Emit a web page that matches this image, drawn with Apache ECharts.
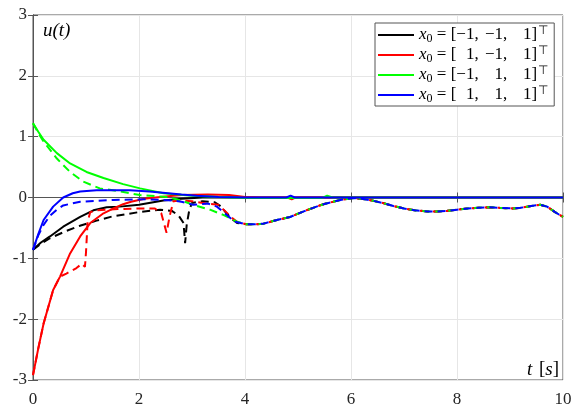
<!DOCTYPE html>
<html>
<head>
<meta charset="utf-8">
<script src="https://cdn.jsdelivr.net/npm/echarts@6/dist/echarts.min.js"></script>
<style>html,body{margin:0;padding:0;background:#fff}#c{width:580px;height:413px}</style>
</head>
<body>
<div id="c"></div>
<script>
// ---- data ----
const xTicks = [0, 2, 4, 6, 8, 10];
const yTicks = [-3, -2, -1, 0, 1, 2, 3];

const legendNames = ['x0 = [-1,-1,1]', 'x0 = [1,-1,1]', 'x0 = [-1,1,1]', 'x0 = [1,1,1]'];
const legendSigns = [['−', '−', ''], ['', '−', ''], ['−', '', ''], ['', '', '']];

const blackSolidT = [0, 0.15, 0.32, 0.57, 0.89, 1.14, 1.39, 1.64, 2.0, 2.46, 2.8, 3.2, 3.6, 4.0, 10];
const blackSolidU = [-0.86, -0.74, -0.64, -0.48, -0.32, -0.21, -0.16, -0.15, -0.12, -0.05, -0.02, 0, 0, 0, 0];

const redSolidT = [0, 0.1, 0.2, 0.38, 0.51, 0.7, 0.89, 1.08, 1.33, 1.52, 1.7, 1.85, 2.1, 2.4, 2.8, 3.3, 3.7, 4.0, 4.3, 4.8, 4.88, 4.95, 10];
const redSolidU = [-2.92, -2.48, -2.07, -1.52, -1.3, -0.92, -0.64, -0.42, -0.26, -0.18, -0.11, -0.07, -0.02, 0.01, 0.04, 0.05, 0.04, 0.01, 0, 0, -0.03, 0, 0];

const greenSolidT = [0, 0.1, 0.2, 0.45, 0.7, 1.01, 1.33, 1.7, 2.02, 2.46, 3.0, 3.5, 4.0, 5.45, 5.55, 5.65, 10];
const greenSolidU = [1.22, 1.08, 0.95, 0.73, 0.56, 0.42, 0.32, 0.22, 0.15, 0.07, 0.03, 0.01, -0.01, -0.01, 0.03, 0, 0];

const blueSolidT = [0, 0.1, 0.2, 0.38, 0.57, 0.75, 0.89, 1.2, 1.83, 2.2, 2.45, 2.8, 3.09, 3.5, 4.0, 4.78, 4.86, 4.94, 10];
const blueSolidU = [-0.86, -0.6, -0.37, -0.15, 0.0, 0.07, 0.1, 0.12, 0.12, 0.1, 0.08, 0.05, 0.03, 0.01, 0, 0, 0.03, 0, 0];

const blackDashT = [0, 0.15, 0.32, 0.6, 0.9, 1.2, 1.5, 2.0, 2.4, 2.62, 2.75, 2.84, 2.87, 2.9, 2.95, 3.0, 3.2, 3.43, 3.55, 3.64, 3.75, 3.85];
const blackDashU = [-0.86, -0.76, -0.67, -0.56, -0.46, -0.38, -0.31, -0.24, -0.2, -0.22, -0.3, -0.42, -0.75, -0.45, -0.2, -0.09, -0.06, -0.08, -0.15, -0.25, -0.35, -0.42];

const redDashT = [0, 0.1, 0.2, 0.38, 0.51, 0.63, 0.82, 0.92, 0.98, 1.0, 1.03, 1.08, 1.2, 1.6, 2.0, 2.3, 2.42, 2.52, 2.58, 2.65, 2.8, 3.0, 3.28, 3.5, 3.62, 3.75, 3.85];
const redDashU = [-2.92, -2.48, -2.07, -1.52, -1.3, -1.25, -1.16, -1.09, -1.14, -0.9, -0.4, -0.24, -0.21, -0.19, -0.18, -0.18, -0.26, -0.58, -0.3, -0.06, -0.05, -0.06, -0.1, -0.12, -0.22, -0.33, -0.4];

const greenDashT = [0, 0.1, 0.2, 0.45, 0.7, 0.95, 1.26, 1.64, 2.02, 2.52, 2.8, 3.02, 3.34, 3.6, 3.85];
const greenDashU = [1.22, 1.06, 0.92, 0.64, 0.42, 0.26, 0.15, 0.1, 0.04, 0.01, -0.05, -0.12, -0.2, -0.29, -0.4];

const blueDashT = [0, 0.1, 0.2, 0.32, 0.45, 0.57, 0.89, 1.52, 2.15, 2.65, 2.8, 3.02, 3.3, 3.47, 3.62, 3.81];
const blueDashU = [-0.86, -0.62, -0.45, -0.3, -0.2, -0.13, -0.07, -0.04, -0.03, -0.05, -0.07, -0.12, -0.1, -0.15, -0.26, -0.4];

const waveT = [4.03, 4.2, 4.35, 4.6, 4.85, 5.16, 5.48, 5.8, 6.04, 6.2, 6.4, 6.6, 6.8, 7.0, 7.2, 7.45, 7.6, 7.8, 8.0, 8.2, 8.4, 8.6, 8.8, 9.05, 9.2, 9.4, 9.57, 9.7, 9.85, 10];
const waveU = [-0.44, -0.44, -0.43, -0.37, -0.32, -0.21, -0.11, -0.04, -0.01, -0.02, -0.05, -0.09, -0.14, -0.18, -0.21, -0.23, -0.23, -0.22, -0.2, -0.18, -0.17, -0.16, -0.17, -0.18, -0.17, -0.14, -0.12, -0.15, -0.24, -0.32];

const colors = ['#000000', '#ff0000', '#00ff00', '#0000ff'];

// ---- build ----
const zip = (t, u) => t.map((v, i) => [v, u[i]]);
const solids = [zip(blackSolidT, blackSolidU), zip(redSolidT, redSolidU), zip(greenSolidT, greenSolidU), zip(blueSolidT, blueSolidU)];
const wave = zip(waveT, waveU);
const dashes = [zip(blackDashT, blackDashU), zip(redDashT, redDashU), zip(greenDashT, greenDashU), zip(blueDashT, blueDashU)].map(d => d.concat(wave));

const series = [];
for (let i = 0; i < 4; i++) {
  series.push({
    name: legendNames[i], type: 'line', data: solids[i], showSymbol: false, symbol: 'none',
    lineStyle: { color: colors[i], width: 2 }, itemStyle: { color: colors[i] }, animation: false, z: 2 + i * 2
  });
  series.push({
    name: 'dash' + i, type: 'line', data: dashes[i], showSymbol: false, symbol: 'none',
    lineStyle: { color: colors[i], width: 2, type: [8, 5] }, itemStyle: { color: colors[i] }, animation: false, z: 3 + i * 2
  });
}

const serif = 'Liberation Serif';
const legendRich = {
  x: { fontFamily: serif, fontStyle: 'italic', fontSize: 17, color: '#000', lineHeight: 20 },
  sub: { fontFamily: serif, fontSize: 12, color: '#000', lineHeight: 10, verticalAlign: 'bottom' },
  t: { fontFamily: serif, fontSize: 17, color: '#000', lineHeight: 20 },
  c: { fontFamily: serif, fontSize: 17, color: '#000', lineHeight: 20, padding: [0, 2, 0, 0] },
  h: { fontFamily: serif, fontSize: 17, color: 'transparent', lineHeight: 20 },
  sup: { fontFamily: serif, fontSize: 12, color: '#000', lineHeight: 10, verticalAlign: 'top', padding: [0, 0, 0, 1] }
};
function legendFmt(name) {
  const i = legendNames.indexOf(name);
  const s = legendSigns[i];
  const num = sg => sg ? '{t|−1}' : '{h|−}{t|1}';
  return '{x|x}{sub|0}{t| = [}' + num(s[0]) + '{c|, }' + num(s[1]) + '{c|, }' + num(s[2]) + '{t|]}{sup|⊤}';
}

const axisCol = '#555';
const tickFmt = v => String(v);
const option = {
  backgroundColor: '#fff',
  animation: false,
  grid: { left: 33, right: 17, top: 15, bottom: 33, show: true, borderColor: axisCol, borderWidth: 1, backgroundColor: 'transparent' },
  xAxis: [{
    type: 'value', min: xTicks[0], max: xTicks[xTicks.length - 1], interval: 2,
    axisLine: { show: true, lineStyle: { color: axisCol } },
    axisTick: { show: true, inside: true, length: 5, lineStyle: { color: axisCol } },
    axisLabel: { color: '#262626', fontFamily: serif, fontSize: 17, margin: 11, formatter: tickFmt },
    splitLine: { show: true, lineStyle: { color: '#e6e6e6', width: 1 } }
  }, {
    type: 'value', position: 'top', min: xTicks[0], max: xTicks[xTicks.length - 1], interval: 2,
    axisLine: { show: true, lineStyle: { color: axisCol } },
    axisTick: { show: true, inside: true, length: 5, lineStyle: { color: axisCol } },
    axisLabel: { show: false }, splitLine: { show: false }
  }],
  yAxis: [{
    type: 'value', min: yTicks[0], max: yTicks[yTicks.length - 1], interval: 1,
    axisLine: { show: true, lineStyle: { color: axisCol } },
    axisTick: { show: true, inside: true, length: 5, lineStyle: { color: axisCol } },
    axisLabel: { color: '#262626', fontFamily: serif, fontSize: 17, margin: 6, formatter: tickFmt },
    splitLine: { show: true, lineStyle: { color: '#e6e6e6', width: 1 } }
  }, {
    type: 'value', position: 'right', min: yTicks[0], max: yTicks[yTicks.length - 1], interval: 1,
    axisLine: { show: true, lineStyle: { color: axisCol } },
    axisTick: { show: true, inside: true, length: 5, lineStyle: { color: axisCol } },
    axisLabel: { show: false }, splitLine: { show: false }
  }],
  legend: {
    data: legendNames,
    orient: 'vertical', left: 375, top: 23,
    padding: [2, 6, 1, 3], itemGap: 0,
    itemWidth: 36, itemHeight: 2, icon: 'rect',
    backgroundColor: '#fff', borderColor: '#555', borderWidth: 1, borderRadius: 0,
    selectedMode: false,
    formatter: legendFmt,
    textStyle: { rich: legendRich, fontFamily: serif, fontSize: 17, lineHeight: 20, padding: [0, 0, 0, 0] }
  },
  graphic: [
    { type: 'text', left: 43, top: 21, z: 100, style: { text: 'u(t)', fontFamily: serif, fontStyle: 'italic', fontSize: 19, fill: '#000' } },
    { type: 'text', right: 21, top: 360, z: 100, style: {
      text: '{i|t}  {n|[}{i|s}{n|]}',
      rich: { i: { fontFamily: serif, fontStyle: 'italic', fontSize: 19, color: '#000' }, n: { fontFamily: serif, fontSize: 19, color: '#000' } }
    } }
  ],
  series: series
};
echarts.init(document.getElementById('c')).setOption(option);
</script>
</body>
</html>
